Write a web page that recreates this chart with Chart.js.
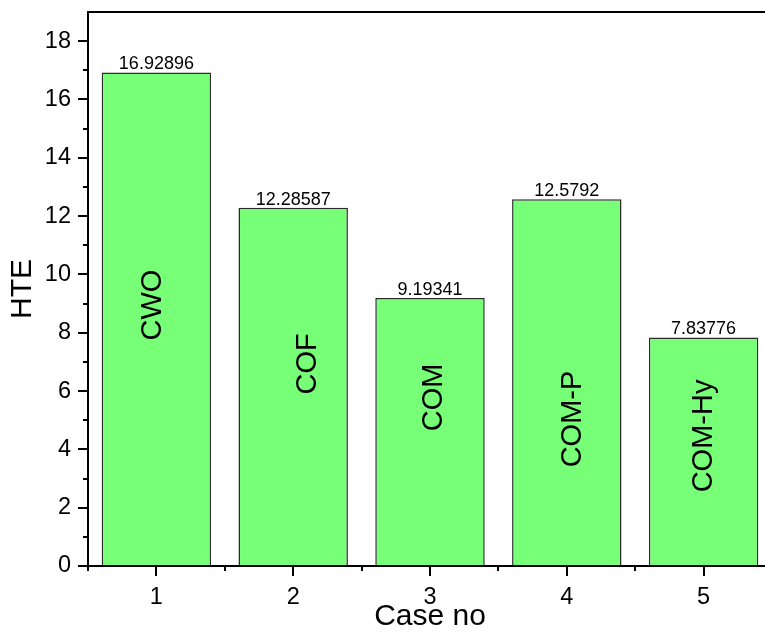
<!DOCTYPE html>
<html>
<head>
<meta charset="utf-8">
<script src="https://cdn.jsdelivr.net/npm/chart.js@4/dist/chart.umd.min.js"></script>
<style>
  html, body { margin: 0; padding: 0; background: #fff; overflow: hidden; }
  #wrap { width: 780px; height: 632px; }
</style>
</head>
<body>
<div id="wrap"><canvas id="c" width="780" height="632"></canvas></div>
<script>
const categories = ['1', '2', '3', '4', '5'];
const hteValues = [16.92896, 12.28587, 9.19341, 12.5792, 7.83776];
const caseNames = ['CWO', 'COF', 'COM', 'COM-P', 'COM-Hy'];
// annotation anchors in data units (centre of the rotated label)
const nameY = [8.95, 6.93, 5.78, 5.04, 4.46];
const nameXShift = [-0.045, 0.09, 0.01, 0.03, -0.015];
const yMajorTicks = [0, 2, 4, 6, 8, 10, 12, 14, 16, 18];
const yMinorTicks = [1, 3, 5, 7, 9, 11, 13, 15, 17];

const FONT = '"Liberation Sans", Arial, sans-serif';
const NAME_SIZE = 29;

const decor = {
  id: 'decor',
  afterDatasetsDraw(chart) {
    const ctx = chart.ctx;
    const xs = chart.scales.x, ys = chart.scales.y;
    ctx.save();
    ctx.fillStyle = '#000';
    ctx.font = '18px ' + FONT;
    ctx.textAlign = 'center';
    ctx.textBaseline = 'alphabetic';
    hteValues.forEach((v, i) => {
      ctx.fillText(String(v), xs.getPixelForValue(i), ys.getPixelForValue(v) - 3);
    });
    ctx.font = NAME_SIZE + 'px ' + FONT;
    caseNames.forEach((n, i) => {
      const x = xs.getPixelForValue(i + nameXShift[i]);
      const y = ys.getPixelForValue(nameY[i]);
      ctx.save();
      ctx.translate(x + NAME_SIZE * 0.358, y);
      ctx.rotate(-Math.PI / 2);
      ctx.textAlign = 'center';
      ctx.textBaseline = 'alphabetic';
      ctx.fillText(n, 0, 0);
      ctx.restore();
    });
    ctx.restore();
  },
  afterDraw(chart) {
    const ctx = chart.ctx;
    const a = chart.chartArea;
    const xs = chart.scales.x, ys = chart.scales.y;
    ctx.save();
    ctx.strokeStyle = '#000';
    ctx.lineWidth = 2;
    ctx.strokeRect(a.left, a.top, a.right - a.left, a.bottom - a.top);
    ctx.beginPath();
    yMajorTicks.forEach(t => {
      const y = Math.round(ys.getPixelForValue(t));
      ctx.moveTo(a.left - 10, y); ctx.lineTo(a.left, y);
    });
    yMinorTicks.forEach(t => {
      const y = Math.round(ys.getPixelForValue(t));
      ctx.moveTo(a.left - 5, y); ctx.lineTo(a.left, y);
    });
    categories.forEach((c, i) => {
      const x = Math.round(xs.getPixelForValue(i));
      ctx.moveTo(x, a.bottom); ctx.lineTo(x, a.bottom + 10);
    });
    for (let i = -0.5; i <= categories.length - 0.5; i += 1) {
      const x = Math.round(xs.getPixelForValue(i));
      ctx.moveTo(x, a.bottom); ctx.lineTo(x, a.bottom + 5);
    }
    ctx.stroke();
    ctx.restore();
  }
};

new Chart(document.getElementById('c'), {
  type: 'bar',
  data: {
    labels: categories,
    datasets: [{
      data: hteValues,
      backgroundColor: '#77FF77',
      borderColor: '#2b2b2b',
      borderWidth: 1.5,
      barPercentage: 0.8,
      categoryPercentage: 1.0
    }]
  },
  options: {
    responsive: false,
    animation: false,
    devicePixelRatio: 1,
    layout: { padding: { top: 12, right: 8, left: 0, bottom: 0 } },
    plugins: { legend: { display: false }, tooltip: { enabled: false } },
    scales: {
      x: {
        type: 'category',
        offset: true,
        grid: { display: false, drawTicks: false },
        border: { display: false },
        ticks: { color: '#000', font: { family: FONT, size: 23.5 }, padding: 17, maxRotation: 0 },
        title: { display: true, text: 'Case no', color: '#000', font: { family: FONT, size: 30, lineHeight: 1.05 }, padding: { top: 0, bottom: 0 } },
        afterFit(s) { s.height = 66; s.paddingLeft = 0; s.paddingRight = 0; }
      },
      y: {
        min: 0, max: 19,
        grid: { display: false, drawTicks: false },
        border: { display: false },
        afterBuildTicks(s) { s.ticks = yMajorTicks.map(v => ({ value: v })); },
        ticks: { color: '#000', font: { family: FONT, size: 23.5 }, padding: 17 },
        title: { display: true, text: 'HTE', color: '#000', font: { family: FONT, size: 30, lineHeight: 1.1 }, padding: { top: 6, bottom: 0 } },
        afterFit(s) { s.width = 88; s.paddingTop = 0; s.paddingBottom = 0; }
      }
    }
  },
  plugins: [decor]
});
</script>
</body>
</html>
